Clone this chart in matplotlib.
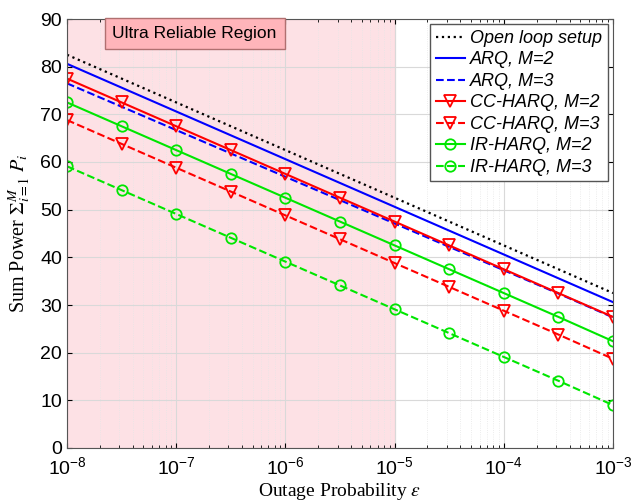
import numpy as np
import matplotlib.pyplot as plt

# outage probability (half decades)
eps = np.array([1e-8, 10**-7.5, 1e-7, 10**-6.5, 1e-6, 10**-5.5,
                1e-5, 10**-4.5, 1e-4, 10**-3.5, 1e-3])

open_loop = [82.5, 77.5, 72.5, 67.5, 62.5, 57.5, 52.5, 47.5, 42.5, 37.5, 32.5]
arq_m2 = [80.6, 75.6, 70.6, 65.6, 60.6, 55.6, 50.6, 45.6, 40.6, 35.6, 30.6]
arq_m3 = [76.5, 71.6, 66.7, 61.8, 56.9, 52.0, 47.1, 42.2, 37.3, 32.4, 27.4]
cc_m2 = [77.5, 72.5, 67.5, 62.5, 57.5, 52.5, 47.5, 42.5, 37.5, 32.5, 27.5]
cc_m3 = [68.8, 63.8, 58.8, 53.8, 48.8, 43.8, 38.8, 33.8, 28.8, 23.8, 18.7]
ir_m2 = [72.5, 67.5, 62.5, 57.5, 52.5, 47.5, 42.5, 37.5, 32.5, 27.5, 22.4]
ir_m3 = [59.1, 54.1, 49.1, 44.1, 39.1, 34.1, 29.1, 24.1, 19.1, 14.1, 9.0]

green = (0, 0.9, 0)

plt.rcParams['font.family'] = ['Liberation Sans', 'DejaVu Sans']
plt.rcParams['mathtext.fontset'] = 'stix'

fig = plt.figure(figsize=(6.35, 5.04), dpi=100)
ax = fig.add_axes([67/635, 1 - 448/504, 546/635, 429/504])

# shaded region
ax.axvspan(1e-8, 1e-5, facecolor='#fde1e5', edgecolor='#f0b8c0', lw=0.8, zorder=0)
ax.text(2.6e-8, 86.9, 'Ultra Reliable Region', fontsize=12.5, va='center', ha='left',
        bbox=dict(boxstyle='square,pad=0.45', facecolor='#ffb5ba', edgecolor='#b07070'))

ax.plot(eps, open_loop, ':', color='black', lw=1.6, label='Open loop setup')
ax.plot(eps, arq_m2, '-', color='blue', lw=1.5, label='ARQ, M=2')
ax.plot(eps, arq_m3, '--', color='blue', lw=1.5, label='ARQ, M=3')
ax.plot(eps, cc_m2, '-v', color='red', lw=1.5, ms=8, mfc='none', mew=1.3, label='CC-HARQ, M=2')
ax.plot(eps, cc_m3, '--v', color='red', lw=1.5, ms=8, mfc='none', mew=1.3, label='CC-HARQ, M=3')
ax.plot(eps, ir_m2, '-o', color=green, lw=1.5, ms=7.5, mfc='none', mew=1.3, label='IR-HARQ, M=2')
ax.plot(eps, ir_m3, '--o', color=green, lw=1.5, ms=7.5, mfc='none', mew=1.3, label='IR-HARQ, M=3')

ax.set_xscale('log')
ax.set_xlim(1e-8, 1e-3)
ax.set_ylim(0, 90)
ax.set_yticks(range(0, 91, 10))
ax.grid(True, which='major', color='#d9d9d9', lw=0.8)
ax.grid(True, which='minor', color='#e6e6e6', lw=0.6, ls=':')
ax.tick_params(which='both', direction='in', top=True, right=True, labelsize=14)
ax.tick_params(axis='x', pad=6)
for s in ax.spines.values():
    s.set_color('#555555')

ax.set_xlabel(r'Outage Probability $\epsilon$', fontsize=14, family='Liberation Serif', labelpad=2)
ax.set_ylabel(r'Sum Power $\Sigma_{i=1}^{M}\ P_i$', fontsize=14.5, family='Liberation Serif', labelpad=6)

leg = ax.legend(loc='upper right', prop={'style': 'italic', 'size': 13},
                handlelength=1.6, handletextpad=0.3, borderpad=0.3, labelspacing=0.25,
                fancybox=False, framealpha=1, edgecolor='#555555', borderaxespad=0.3)

fig.savefig('out.png', dpi=100)
